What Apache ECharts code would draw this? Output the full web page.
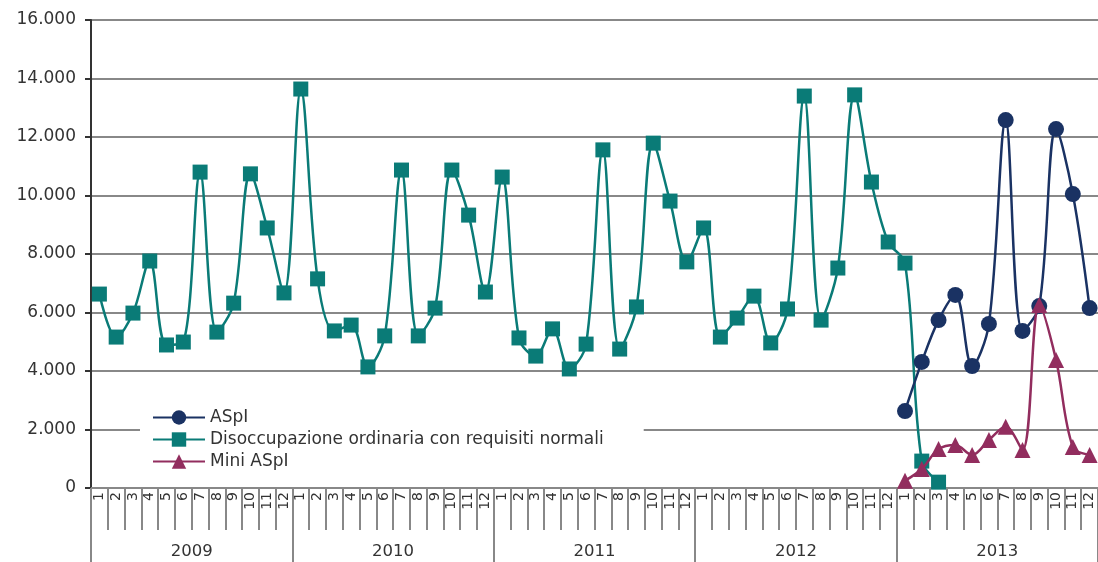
<!DOCTYPE html>
<html>
<head>
<meta charset="utf-8">
<script src="https://cdn.jsdelivr.net/npm/echarts@6/dist/echarts.min.js"></script>
<style>
  html, body { margin: 0; padding: 0; background: #fff; }
  #chart { width: 1098px; height: 562px; }
</style>
</head>
<body>
<div id="chart"></div>
<script>
// mesi e anni
const years = ['2009', '2010', '2011', '2012', '2013']
const months = []
years.forEach(() => {
  for (let m = 1; m <= 12; m++) months.push(String(m))
})

// Disoccupazione ordinaria con requisiti normali (2009-01 .. 2013-03)
const disoccupazione = [
  6630, 5160, 5980, 7760, 4890, 4990, 10800, 5330, 6320, 10740, 8890, 6670,
  13640, 7150, 5370, 5570, 4140, 5200, 10870, 5200, 6150, 10870, 9330, 6700,
  10630, 5130, 4510, 5440, 4070, 4920, 11560, 4750, 6190, 11790, 9810, 7730,
  8890, 5160, 5810, 6560, 4960, 6120, 13400, 5740, 7520, 13440, 10460, 8410,
  7690, 920, 200, null, null, null, null, null, null, null, null, null
]

// ASpI 2013
const aspi2013 = [2630, 4310, 5740, 6600, 4170, 5610, 12580, 5370, 6220, 12270, 10050, 6150]
// Mini ASpI 2013
const miniAspi2013 = [250, 650, 1330, 1470, 1130, 1640, 2090, 1300, 6260, 4380, 1400, 1130]

const pad = new Array(48).fill(null)
const aspi = pad.concat(aspi2013)
const miniAspi = pad.concat(miniAspi2013)

const FONT = 'DejaVu Sans'
const fmt = v => String(v).replace(/\B(?=(\d{3})+(?!\d))/g, '.')

const chart = echarts.init(document.getElementById('chart'))
chart.setOption({
  animation: false,
  textStyle: { fontFamily: FONT },
  grid: { left: 91, top: 20, right: -8, bottom: 74, containLabel: false },
  legend: {
    orient: 'vertical',
    left: 140,
    top: 403,
    backgroundColor: '#fff',
    padding: [6, 40, 6, 12],
    itemWidth: 52,
    itemHeight: 18,
    itemGap: 5,
    textStyle: { fontFamily: FONT, fontSize: 17, color: '#333', lineHeight: 17 },
    data: ['ASpI', 'Disoccupazione ordinaria con requisiti normali', 'Mini ASpI']
  },
  xAxis: [
    {
      type: 'category',
      data: months,
      boundaryGap: true,
      axisLine: { show: true, lineStyle: { color: '#888', width: 2 } },
      axisTick: { show: true, interval: 0, length: 42, lineStyle: { color: '#888', width: 2 } },
      axisLabel: { rotate: 90, fontFamily: FONT, fontSize: 14, color: '#333', margin: 4, interval: 0 }
    },
    {
      type: 'category',
      data: years,
      position: 'bottom',
      axisLine: { show: false },
      axisTick: { show: true, interval: 0, length: 76, lineStyle: { color: '#888', width: 2 } },
      axisLabel: { fontFamily: FONT, fontSize: 16.5, color: '#333', margin: 55 }
    }
  ],
  yAxis: {
    type: 'value',
    min: 0,
    max: 16000,
    interval: 2000,
    axisLine: { show: true, lineStyle: { color: '#333', width: 2 } },
    axisTick: { show: true, length: 6, lineStyle: { color: '#333', width: 2 } },
    axisLabel: { fontFamily: FONT, fontSize: 17, color: '#333', margin: 15, formatter: fmt },
    splitLine: { lineStyle: { color: '#888', width: 2 } }
  },
  series: [
    {
      name: 'ASpI',
      type: 'line',
      data: aspi,
      smooth: 0.35,
      symbol: 'circle',
      symbolSize: 16,
      color: '#1a3263',
      lineStyle: { width: 2.5 },
      z: 4
    },
    {
      name: 'Disoccupazione ordinaria con requisiti normali',
      type: 'line',
      data: disoccupazione,
      smooth: 0.35,
      symbol: 'rect',
      symbolSize: 15,
      color: '#0a7b77',
      lineStyle: { width: 2.5 },
      z: 3
    },
    {
      name: 'Mini ASpI',
      type: 'line',
      data: miniAspi,
      smooth: 0.35,
      symbol: 'triangle',
      symbolSize: 16,
      color: '#922d5e',
      lineStyle: { width: 2.5 },
      z: 5
    }
  ]
})
</script>
</body>
</html>
